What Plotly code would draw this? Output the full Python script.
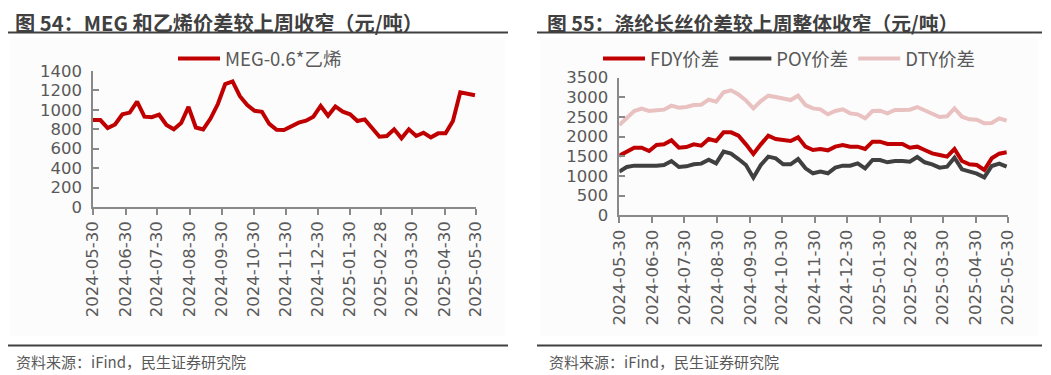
import datetime as dt
import plotly.graph_objects as go

# ---------------- data ----------------
start = dt.date(2024, 5, 30)
dates = [(start + dt.timedelta(days=7 * i)).isoformat() for i in range(53)]

meg_spread = [895, 895, 812, 850, 955, 972, 1085, 930, 925, 950, 845, 800, 865, 1030, 818, 798,
              910, 1060, 1265, 1293, 1140, 1050, 990, 980, 855, 795,
              793, 827, 868, 889, 930, 1040, 940, 1035, 981, 954, 885, 902, 810, 724, 731, 800,
              707, 800, 731, 765, 717, 758, 758, 885, 1180, 1160, 1150]

fdy = [1517, 1619, 1720, 1720, 1636, 1788, 1805, 1907, 1720, 1737, 1805, 1771, 1941, 1890,
       2110, 2110, 2025, 1805, 1559, 1805, 2025, 1941, 1915,
       1890, 1983, 1746, 1661, 1686, 1653, 1746, 1788, 1746, 1746, 1686, 1873, 1873, 1814,
       1822, 1814, 1720, 1746, 1661, 1576, 1534, 1492, 1686, 1381, 1297, 1280, 1153, 1449,
       1568, 1602]

poy = [1110, 1229, 1263, 1263, 1246, 1263, 1280, 1381, 1229, 1246, 1297, 1314, 1415, 1322,
       1619, 1568, 1432, 1280, 958, 1280, 1492, 1449, 1297,
       1297, 1432, 1195, 1068, 1110, 1068, 1212, 1263, 1263, 1322, 1195, 1407, 1407, 1348,
       1381, 1381, 1364, 1483, 1348, 1297, 1212, 1237, 1466, 1170, 1110, 1059, 966, 1254,
       1314, 1237]

dty = [2297, 2483, 2653, 2712, 2653, 2670, 2687, 2788, 2737, 2754, 2805, 2814, 2941, 2890,
       3127, 3178, 3076, 2924, 2720, 2907, 3042, 3008, 2958,
       2932, 3042, 2805, 2720, 2695, 2568, 2653, 2695, 2593, 2568, 2466, 2653, 2661, 2593,
       2678, 2678, 2687, 2754, 2670, 2593, 2500, 2517, 2720, 2508, 2441, 2432, 2339, 2348,
       2466, 2407]

tick_dates = ["2024-05-30", "2024-06-30", "2024-07-30", "2024-08-30", "2024-09-30",
              "2024-10-30", "2024-11-30", "2024-12-30", "2025-01-30", "2025-02-28",
              "2025-03-30", "2025-04-30", "2025-05-30"]

title_left = "图 54：MEG 和乙烯价差较上周收窄（元/吨）"
title_right = "图 55：涤纶长丝价差较上周整体收窄（元/吨）"
source_text = "资料来源：iFind，民生证券研究院"

# ---------------- styling ----------------
# the page body keeps its default 8px margin, so the figure is placed at (8, 8)
OFF = 8
W, H = 1051 - OFF, 375 - OFF
FONT = "Noto Sans CJK SC, Microsoft YaHei, sans-serif"
TICKFONT = "DejaVu Sans, sans-serif"
TXT = "#595959"
AX = "#898989"
RED = "#C00000"
DARK = "#404040"
PINK = "#EAC1C1"


def px(x):
    return (x - OFF) / W


def py(y):
    return 1 - (y - OFF) / H


fig = go.Figure()
fig.add_trace(go.Scatter(x=dates, y=meg_spread, mode="lines", name="MEG-0.6*乙烯",
                         line=dict(color=RED, width=4), xaxis="x", yaxis="y", legend="legend"))
fig.add_trace(go.Scatter(x=dates, y=fdy, mode="lines", name="FDY价差",
                         line=dict(color=RED, width=4), xaxis="x2", yaxis="y2", legend="legend2"))
fig.add_trace(go.Scatter(x=dates, y=poy, mode="lines", name="POY价差",
                         line=dict(color=DARK, width=4), xaxis="x2", yaxis="y2", legend="legend2"))
fig.add_trace(go.Scatter(x=dates, y=dty, mode="lines", name="DTY价差",
                         line=dict(color=PINK, width=4), xaxis="x2", yaxis="y2", legend="legend2"))

xcommon = dict(type="date", range=[tick_dates[0], tick_dates[-1]], tickvals=tick_dates,
               ticktext=tick_dates, tickangle=-90, showgrid=False, zeroline=False,
               showline=True, linecolor=AX, linewidth=1.5, ticks="outside", ticklen=6,
               tickcolor=AX, tickwidth=1.5, automargin=False,
               tickfont=dict(family=TICKFONT, size=16.5, color=TXT))
ycommon = dict(showgrid=False, zeroline=False, showline=True, linecolor=AX, linewidth=1.5,
               ticks="inside", ticklen=6, tickcolor=AX, tickwidth=1.5, automargin=False,
               tickfont=dict(family=TICKFONT, size=16.5, color=TXT), ticklabelstandoff=6)

fig.update_layout(
    width=W, height=H, margin=dict(l=0, r=0, t=0, b=0, autoexpand=False),
    paper_bgcolor="white", plot_bgcolor="rgba(0,0,0,0)",
    font=dict(family=FONT, color=TXT),
    xaxis=dict(domain=[px(93), px(476)], anchor="y", **xcommon),
    yaxis=dict(domain=[py(207), py(71)], anchor="x", range=[0, 1400], dtick=200, **ycommon),
    xaxis2=dict(domain=[px(619.3), px(1007.7)], anchor="y2", **xcommon),
    yaxis2=dict(domain=[py(215.3), py(77.7)], anchor="x2", range=[0, 3500], dtick=500, **ycommon),
    legend=dict(x=px(173), y=py(59), xanchor="left", yanchor="middle", orientation="h",
                itemwidth=42, bgcolor="rgba(0,0,0,0)",
                font=dict(family=FONT, size=18.5, color=TXT)),
    legend2=dict(x=px(598), y=py(59), xanchor="left", yanchor="middle", orientation="h",
                 itemwidth=42, bgcolor="rgba(0,0,0,0)",
                 font=dict(family=FONT, size=18.5, color=TXT)),
    showlegend=True,
)

shapes = []
# faint panel backgrounds
shapes.append(dict(type="rect", xref="paper", yref="paper", x0=px(10), x1=px(505), y0=py(336), y1=py(38),
                   fillcolor="#FCFCFC", line=dict(width=0), layer="below"))
shapes.append(dict(type="rect", xref="paper", yref="paper", x0=px(540), x1=px(1038), y0=py(336), y1=py(38),
                   fillcolor="#FCFCFC", line=dict(width=0), layer="below"))
for x0, x1 in [(8, 508), (537, 1042)]:
    shapes.append(dict(type="line", xref="paper", yref="paper", x0=px(x0), x1=px(x1), y0=py(32.5), y1=py(32.5),
                       line=dict(color="#404040", width=2)))
    shapes.append(dict(type="line", xref="paper", yref="paper", x0=px(x0), x1=px(x1), y0=py(345.5), y1=py(345.5),
                       line=dict(color="#404040", width=2)))
fig.update_layout(shapes=shapes)

annotations = []
for x0, t, fs in [(14, title_left, 20.2), (546, title_right, 19.8)]:
    annotations.append(dict(text="<b>" + t + "</b>", xref="paper", yref="paper", x=px(x0), y=py(22.8),
                            xanchor="left", yanchor="middle", showarrow=False, borderpad=0,
                            font=dict(family=FONT, size=fs, color="#404040")))
for x0 in [14, 547]:
    annotations.append(dict(text=source_text, xref="paper", yref="paper", x=px(x0), y=py(361),
                            xanchor="left", yanchor="middle", showarrow=False,
                            font=dict(family=FONT, size=15, color=TXT)))
fig.update_layout(annotations=annotations)

fig.write_html("out.html")
